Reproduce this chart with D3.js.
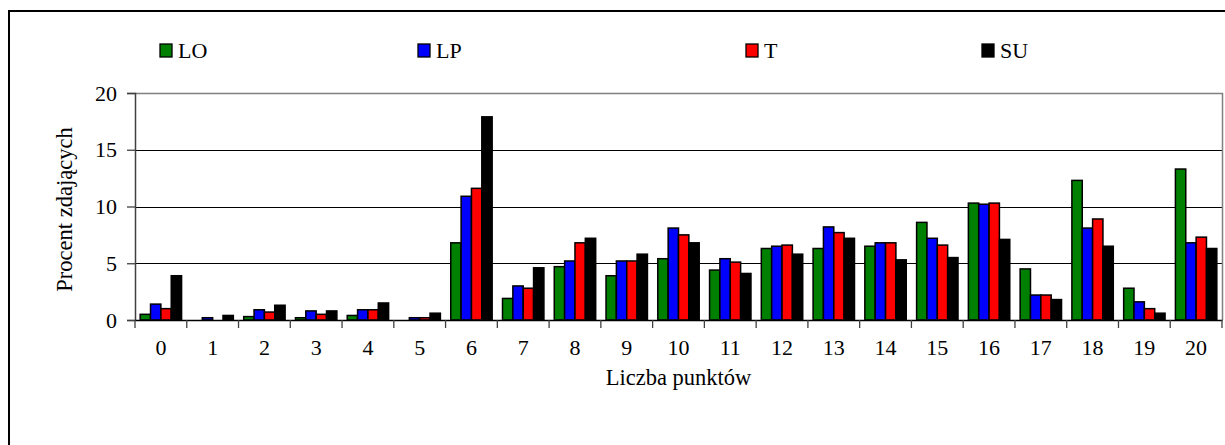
<!DOCTYPE html>
<html>
<head>
<meta charset="utf-8">
<script src="https://cdn.jsdelivr.net/npm/d3@7"></script>
<style>
  html, body { margin: 0; padding: 0; background: #fff; overflow: hidden; }
  svg { display: block; }
  text { font-family: "Liberation Serif", "Times New Roman", serif; fill: #000; }
</style>
</head>
<body>
<div id="chart"></div>
<script>
// Categories (number of points) and series values (percent)
var categories = ["0", "1", "2", "3", "4", "5", "6", "7", "8", "9", "10",
  "11", "12", "13", "14", "15", "16", "17", "18", "19", "20"];
var seriesNames = ["LO", "LP", "T", "SU"];
var seriesColors = ["#008000", "#0000ff", "#ff0000", "#000000"];
var valuesLO = [0.5, 0, 0.3, 0.2, 0.4, 0, 6.8, 1.9, 4.7, 3.9, 5.4, 4.4, 6.3, 6.3, 6.5, 8.6, 10.3, 4.5, 12.3, 2.8, 13.3];
var valuesLP = [1.4, 0.2, 0.9, 0.8, 0.9, 0.2, 10.9, 3.0, 5.2, 5.2, 8.1, 5.4, 6.5, 8.2, 6.8, 7.2, 10.2, 2.2, 8.1, 1.6, 6.8];
var valuesT = [1.0, 0, 0.7, 0.5, 0.9, 0.2, 11.6, 2.8, 6.8, 5.2, 7.5, 5.1, 6.6, 7.7, 6.8, 6.6, 10.3, 2.2, 8.9, 1.0, 7.3];
var valuesSU = [3.9, 0.4, 1.3, 0.8, 1.5, 0.6, 17.9, 4.6, 7.2, 5.8, 6.8, 4.1, 5.8, 7.2, 5.3, 5.5, 7.1, 1.8, 6.5, 0.6, 6.3];
var yTicks = [0, 5, 10, 15, 20];

var allValues = [valuesLO, valuesLP, valuesT, valuesSU];

var serif = "'Liberation Serif', 'Times New Roman', serif";

// SVG size
var svgWidth = 1225;
var svgHeight = 445;

// plot area inside the svg
var plot = { left: 135, top: 93, right: 1222, bottom: 320 };

var svg = d3.select("#chart")
  .append("svg")
  .attr("width", svgWidth)
  .attr("height", svgHeight);

svg.append("rect")
  .attr("width", svgWidth)
  .attr("height", svgHeight)
  .attr("fill", "#fff");

// outer chart frame (runs off the right and bottom edge)
svg.append("rect")
  .attr("x", 9)
  .attr("y", 11)
  .attr("width", 1240)
  .attr("height", 460)
  .attr("fill", "none")
  .attr("stroke", "#000")
  .attr("stroke-width", 2);

// scales
var xScale = d3.scaleBand()
  .domain(categories)
  .range([plot.left, plot.right])
  .padding(0);

var xSeries = d3.scaleBand()
  .domain(seriesNames)
  .range([0, xScale.bandwidth()])
  .paddingInner(0)
  .paddingOuter(0.5);

var yScale = d3.scaleLinear()
  .domain([0, 20])
  .range([plot.bottom, plot.top]);

// gridlines
svg.append("g")
  .selectAll("line")
  .data(yTicks.filter(d => d > 0 && d < 20))
  .enter()
  .append("line")
  .attr("x1", plot.left)
  .attr("x2", plot.right)
  .attr("y1", d => Math.round(yScale(d)) + 0.5)
  .attr("y2", d => Math.round(yScale(d)) + 0.5)
  .attr("stroke", "#000")
  .attr("stroke-width", 1);

// plot area border (top + right)
svg.append("path")
  .attr("d", `M${plot.left},${Math.round(plot.top) + 0.5}H${plot.right + 0.5}V${plot.bottom}`)
  .attr("fill", "none")
  .attr("stroke", "#808080")
  .attr("stroke-width", 1.5);

// bars
var rows = categories.map(function(c, i) {
  return seriesNames.map(function(s, j) {
    return { cat: c, series: s, color: seriesColors[j], value: allValues[j][i] };
  });
});

var groups = svg.append("g")
  .selectAll("g")
  .data(rows)
  .enter()
  .append("g")
  .attr("transform", (d, i) => `translate(${xScale(categories[i])},0)`);

groups.selectAll("rect")
  .data(d => d.filter(b => b.value > 0))
  .enter()
  .append("rect")
  .attr("x", d => xSeries(d.series))
  .attr("y", d => yScale(d.value))
  .attr("width", xSeries.bandwidth())
  .attr("height", d => yScale(0) - yScale(d.value))
  .attr("fill", d => d.color)
  .attr("stroke", "#000")
  .attr("stroke-width", 1.5);

// axes
var leftAxis = d3.axisLeft(yScale)
  .tickValues(yTicks)
  .tickSize(8)
  .tickPadding(10);

var yAxisG = svg.append("g")
  .attr("transform", `translate(${plot.left},0)`)
  .call(leftAxis);
yAxisG.attr("font-family", null).attr("font-size", null);
yAxisG.select(".domain").attr("stroke", "#404040").attr("stroke-width", 1.5);
yAxisG.selectAll(".tick line").attr("stroke", "#404040").attr("stroke-width", 1.3);
yAxisG.selectAll(".tick text")
  .style("font-family", serif)
  .style("font-size", "22px");

var bottomAxis = d3.axisBottom(xScale)
  .tickSize(0)
  .tickPadding(19);

var xAxisG = svg.append("g")
  .attr("transform", `translate(0,${plot.bottom})`)
  .call(bottomAxis);
xAxisG.attr("font-family", null).attr("font-size", null);
xAxisG.select(".domain").attr("stroke", "#000").attr("stroke-width", 1.5);
xAxisG.selectAll(".tick text")
  .style("font-family", serif)
  .style("font-size", "22px");

// category separator ticks on x axis
var boundaries = categories.map(c => xScale(c)).concat([plot.right]);
xAxisG.selectAll(".sep")
  .data(boundaries)
  .enter()
  .append("line")
  .attr("class", "sep")
  .attr("x1", d => d)
  .attr("x2", d => d)
  .attr("y1", 0)
  .attr("y2", 8)
  .attr("stroke", "#404040")
  .attr("stroke-width", 1.3);

// axis titles
svg.append("text")
  .attr("transform", `translate(72, ${(plot.top + plot.bottom) / 2 + 3}) rotate(-90)`)
  .attr("text-anchor", "middle")
  .style("font-family", serif)
  .style("font-size", "22.5px")
  .text("Procent zdających");

svg.append("text")
  .attr("x", (plot.left + plot.right) / 2)
  .attr("y", 385)
  .attr("text-anchor", "middle")
  .style("font-family", serif)
  .style("font-size", "22.5px")
  .text("Liczba punktów");

// legend
var legendX = [160, 418, 746, 982];
var legend = svg.append("g")
  .selectAll("g")
  .data(seriesNames)
  .enter()
  .append("g")
  .attr("transform", (d, i) => `translate(${legendX[i]}, 44)`);

legend.append("rect")
  .attr("width", 12)
  .attr("height", 13)
  .attr("fill", (d, i) => seriesColors[i])
  .attr("stroke", "#000")
  .attr("stroke-width", 1.3);

legend.append("text")
  .attr("x", 18)
  .attr("y", 14)
  .style("font-family", serif)
  .style("font-size", "22px")
  .text(d => d);
</script>
</body>
</html>
